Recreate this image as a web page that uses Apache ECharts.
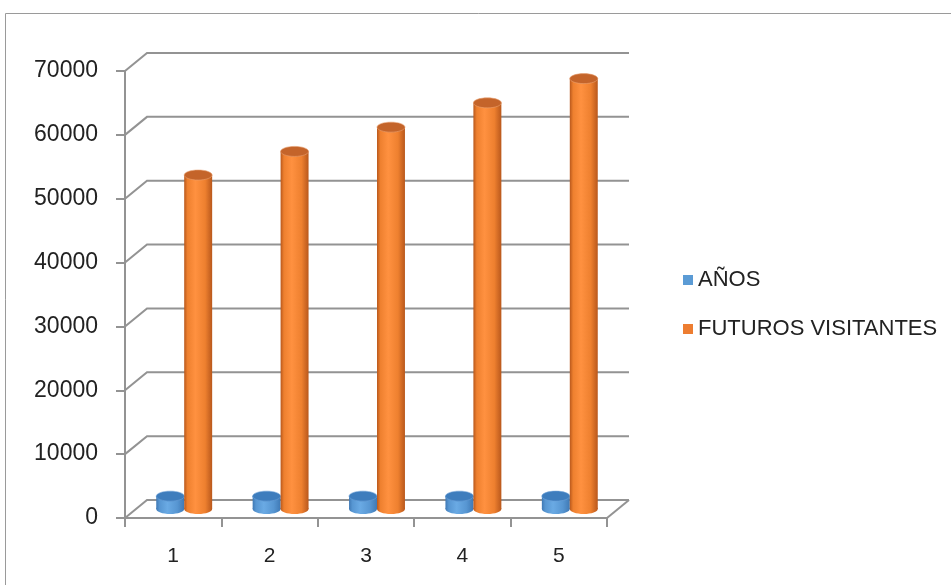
<!DOCTYPE html>
<html>
<head>
<meta charset="utf-8">
<style>
  html, body { margin: 0; padding: 0; background: #fff; }
  #chart { width: 951px; height: 585px; }
</style>
<script src="https://cdn.jsdelivr.net/npm/echarts@6/dist/echarts.min.js"></script>
</head>
<body>
<div id="chart"></div>
<script>
// Categories and series values
const categories = ['1', '2', '3', '4', '5'];
const anios = [2013, 2014, 2015, 2016, 2017];
const futurosVisitantes = [52300, 56000, 59800, 63600, 67400];
const yTicks = [0, 10000, 20000, 30000, 40000, 50000, 60000, 70000];

// Depth of the pseudo-3D box (pixels back/up from the front plane)
const DEPTH_X = 22;
const DEPTH_Y = 18;
const FONT = '"Liberation Sans", Arial, sans-serif';
const GRID_COLOR = '#939393';

const chart = echarts.init(document.getElementById('chart'), null, { renderer: 'canvas' });

// Side and back wall gridlines, plus the floor, projected from the front plane
function renderWalls(params, api) {
  const cs = params.coordSys;
  const y = api.coord([0, api.value(1)])[1];
  const style = { stroke: GRID_COLOR, lineWidth: 2, fill: null };
  const children = [{
    type: 'polyline',
    shape: { points: [[cs.x, y], [cs.x + DEPTH_X, y - DEPTH_Y], [cs.x + cs.width + DEPTH_X, y - DEPTH_Y]] },
    style: style,
    silent: true
  }];
  if (api.value(1) === 0) {
    children.push({
      type: 'polyline',
      shape: { points: [[cs.x + cs.width, y], [cs.x + cs.width + DEPTH_X, y - DEPTH_Y]] },
      style: style,
      silent: true
    });
  }
  return { type: 'group', children: children };
}

// A cylinder standing at mid-depth of the box
function cylinderRenderer(side, colors) {
  return function (params, api) {
    const idx = api.value(0);
    const val = api.value(1);
    const base = api.coord([idx, 0]);
    const top = api.coord([idx, val]);
    const band = api.size([1, 0])[0];
    const w = band * 0.29;
    const rx = w / 2;
    const ry = 5;
    const cx = base[0] + DEPTH_X / 2 + side * w / 2;
    const yb = base[1] - DEPTH_Y / 2;
    const yt = top[1] - DEPTH_Y / 2;
    const bodyFill = new echarts.graphic.LinearGradient(0, 0, 1, 0, [
      { offset: 0, color: colors.edge },
      { offset: 0.12, color: colors.mid },
      { offset: 0.4, color: colors.light },
      { offset: 0.75, color: colors.mid },
      { offset: 1, color: colors.edge }
    ]);
    return {
      type: 'group',
      children: [
        { type: 'ellipse', shape: { cx: cx, cy: yb, rx: rx, ry: ry }, style: { fill: bodyFill } },
        { type: 'rect', shape: { x: cx - rx, y: yt, width: w, height: yb - yt }, style: { fill: bodyFill } },
        { type: 'ellipse', shape: { cx: cx, cy: yt, rx: rx, ry: ry }, style: { fill: colors.top, stroke: colors.rim, lineWidth: 0.6 } }
      ]
    };
  };
}

const blue = { edge: '#3F79B5', mid: '#5796D2', light: '#6AAAE4', top: '#3E7DBD', rim: '#6CA0D6' };
const orange = { edge: '#B9581C', mid: '#EE802F', light: '#FF9140', top: '#C4642A', rim: '#E8A070' };

const option = {
  backgroundColor: '#ffffff',
  animation: false,
  textStyle: { fontFamily: FONT },
  graphic: [{
    type: 'rect',
    shape: { x: 5.5, y: 13.5, width: 1000, height: 700 },
    style: { fill: null, stroke: '#9a9a9a', lineWidth: 1 },
    silent: true,
    z: -10
  }],
  legend: {
    orient: 'vertical',
    left: 678,
    top: 264,
    itemWidth: 10,
    itemHeight: 10,
    itemGap: 27,
    icon: 'rect',
    textStyle: { fontFamily: FONT, fontSize: 22, color: '#222' },
    data: ['AÑOS', 'FUTUROS VISITANTES']
  },
  grid: { left: 125, top: 71, right: 344, bottom: 67, containLabel: false },
  xAxis: {
    type: 'category',
    data: categories,
    boundaryGap: true,
    axisLine: { show: true, lineStyle: { color: GRID_COLOR, width: 2 } },
    axisTick: { show: true, alignWithLabel: false, length: 9, lineStyle: { color: GRID_COLOR, width: 2 } },
    axisLabel: { margin: 28, fontFamily: FONT, fontSize: 21, color: '#222' },
    splitLine: { show: false }
  },
  yAxis: {
    type: 'value',
    min: 0,
    max: 70000,
    interval: 10000,
    axisLine: { show: true, lineStyle: { color: GRID_COLOR, width: 2 } },
    axisTick: { show: true, length: 9, lineStyle: { color: GRID_COLOR, width: 2 } },
    axisLabel: { margin: 27, fontFamily: FONT, fontSize: 23, color: '#222', formatter: v => String(v) },
    splitLine: { show: false }
  },
  series: [
    {
      name: 'walls',
      type: 'custom',
      renderItem: renderWalls,
      data: yTicks.map(v => [0, v]),
      encode: { x: 0, y: 1 },
      silent: true,
      z: 1
    },
    {
      name: 'AÑOS',
      type: 'custom',
      renderItem: cylinderRenderer(-1, blue),
      itemStyle: { color: '#5B9BD5' },
      data: anios.map((v, i) => [i, v]),
      encode: { x: 0, y: 1 },
      z: 3
    },
    {
      name: 'FUTUROS VISITANTES',
      type: 'custom',
      renderItem: cylinderRenderer(1, orange),
      itemStyle: { color: '#ED7D31' },
      data: futurosVisitantes.map((v, i) => [i, v]),
      encode: { x: 0, y: 1 },
      z: 4
    }
  ]
};

chart.setOption(option);
</script>
</body>
</html>
